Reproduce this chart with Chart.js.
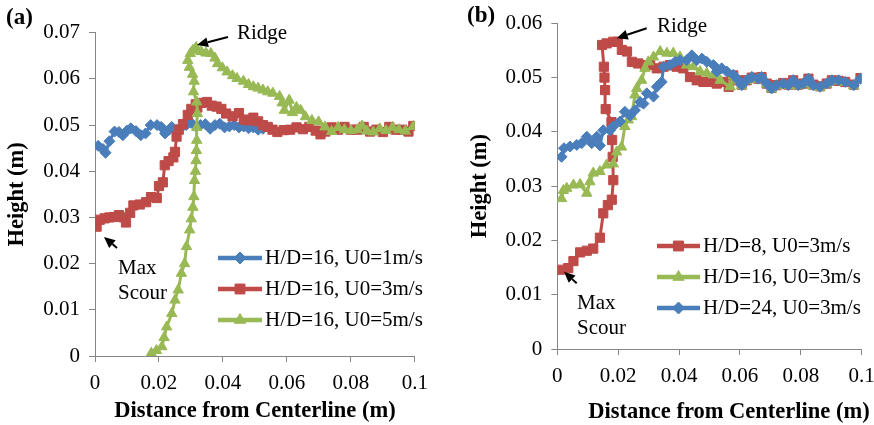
<!DOCTYPE html>
<html>
<head>
<meta charset="utf-8">
<script src="https://cdn.jsdelivr.net/npm/chart.js@4.4.1/dist/chart.umd.min.js"></script>
<style>
  html, body { margin: 0; padding: 0; background: #fff; overflow: hidden; }
  #wrapA { position: absolute; left: 0; top: 0; width: 437px; height: 425px; }
  #wrapB { position: absolute; left: 437px; top: 0; width: 470px; height: 425px; }
  .preload { position: absolute; left: -9999px; top: 0; font-family: 'Liberation Serif'; font-size: 21px; }
</style>
</head>
<body>
<span class="preload">Ridge 0.05</span><span class="preload" style="font-weight:bold">Height (m)</span>
<div id="wrapA"><canvas id="chartA" width="437" height="425"></canvas></div>
<div id="wrapB"><canvas id="chartB" width="470" height="425"></canvas></div>
<script>
// --- data (x = distance from centerline, y = height, both in m) ---
const xTicks = [0, 0.02, 0.04, 0.06, 0.08, 0.1];
const aYTicks = [0, 0.01, 0.02, 0.03, 0.04, 0.05, 0.06, 0.07];
const bYTicks = [0, 0.01, 0.02, 0.03, 0.04, 0.05, 0.06];

const aLabels = ['H/D=16, U0=1m/s', 'H/D=16, U0=3m/s', 'H/D=16, U0=5m/s'];
const bLabels = ['H/D=8, U0=3m/s', 'H/D=16, U0=3m/s', 'H/D=24, U0=3m/s'];

// panel (a)
const aU1 = [[0.001,0.0455],[0.0025,0.0448],[0.0033,0.044],[0.0045,0.0465],[0.0061,0.0486],[0.0075,0.0485],[0.0087,0.0478],[0.01,0.0488],[0.0112,0.0493],[0.0128,0.0487],[0.0143,0.0478],[0.0158,0.0482],[0.0174,0.05],[0.0194,0.05],[0.0207,0.0496],[0.0219,0.0482],[0.0232,0.049],[0.024,0.0496],[0.0255,0.049],[0.027,0.0495],[0.0285,0.05],[0.03,0.0505],[0.0315,0.0497],[0.033,0.05],[0.0345,0.0502],[0.036,0.0492],[0.0375,0.05],[0.039,0.0503],[0.0405,0.0495],[0.042,0.0497],[0.0435,0.05],[0.045,0.0495],[0.0465,0.0497],[0.048,0.0493],[0.0495,0.0495],[0.051,0.049],[0.0525,0.0492]];
const aU3 = [[0.0005,0.028],[0.0015,0.0295],[0.003,0.0298],[0.0045,0.03],[0.006,0.0301],[0.0075,0.0305],[0.009,0.03],[0.0097,0.0289],[0.011,0.031],[0.012,0.0326],[0.014,0.0328],[0.016,0.0333],[0.0175,0.0344],[0.0193,0.0342],[0.02,0.0368],[0.0212,0.0376],[0.0218,0.0413],[0.023,0.0422],[0.0245,0.043],[0.025,0.0442],[0.0255,0.0475],[0.0262,0.049],[0.0275,0.0502],[0.029,0.0522],[0.0301,0.0535],[0.0315,0.0545],[0.032,0.0538],[0.0333,0.0548],[0.035,0.055],[0.0365,0.0542],[0.038,0.054],[0.0395,0.0535],[0.041,0.0525],[0.043,0.0519],[0.045,0.0526],[0.0465,0.0512],[0.048,0.051],[0.0495,0.0516],[0.051,0.0508],[0.0525,0.05],[0.054,0.0496],[0.0555,0.049],[0.057,0.0485],[0.059,0.0489],[0.061,0.049],[0.063,0.0495],[0.065,0.0491],[0.067,0.0496],[0.069,0.0488],[0.0705,0.048],[0.072,0.0486],[0.074,0.0495],[0.076,0.049],[0.078,0.0496],[0.08,0.049],[0.082,0.049],[0.084,0.0496],[0.086,0.0486],[0.088,0.049],[0.09,0.0485],[0.092,0.0496],[0.094,0.049],[0.096,0.049],[0.098,0.0486],[0.0995,0.0498]];
const aU5 = [[0.0176,0.0006],[0.0192,0.0012],[0.0209,0.002],[0.0216,0.004],[0.0224,0.0063],[0.024,0.0092],[0.025,0.0121],[0.026,0.0143],[0.027,0.0179],[0.028,0.02],[0.0286,0.0237],[0.0296,0.0273],[0.0301,0.0297],[0.0306,0.0322],[0.0309,0.0345],[0.0311,0.038],[0.0314,0.04],[0.0316,0.0423],[0.0317,0.0445],[0.0318,0.0467],[0.0318,0.0495],[0.032,0.0525],[0.0318,0.055],[0.0308,0.0572],[0.031,0.0595],[0.0305,0.061],[0.0295,0.0625],[0.029,0.064],[0.0298,0.0655],[0.0306,0.0662],[0.0316,0.0668],[0.0332,0.0659],[0.0347,0.0656],[0.0362,0.0655],[0.0375,0.0645],[0.0383,0.0633],[0.0398,0.0624],[0.0413,0.0615],[0.043,0.0607],[0.0444,0.0601],[0.0464,0.0595],[0.048,0.0588],[0.0495,0.0583],[0.051,0.058],[0.0525,0.0576],[0.054,0.0572],[0.0556,0.0569],[0.0577,0.0562],[0.0585,0.0548],[0.0592,0.0532],[0.0607,0.0554],[0.0617,0.0527],[0.063,0.0538],[0.0643,0.0532],[0.0658,0.0518],[0.0678,0.051],[0.0699,0.0507],[0.0719,0.0496],[0.074,0.0486],[0.076,0.0495],[0.078,0.049],[0.08,0.0488],[0.082,0.049],[0.0835,0.0498],[0.085,0.0487],[0.087,0.0485],[0.089,0.0492],[0.091,0.0488],[0.093,0.0495],[0.095,0.049],[0.097,0.0487],[0.0995,0.0497]];

// panel (b)
const bHD8 = [[0.0009,0.0146],[0.0036,0.0149],[0.0053,0.0162],[0.0075,0.0178],[0.0097,0.0181],[0.0118,0.0185],[0.014,0.0205],[0.0151,0.025],[0.0166,0.0265],[0.0179,0.0275],[0.0184,0.0311],[0.0182,0.0354],[0.018,0.0385],[0.0178,0.0418],[0.0159,0.0442],[0.0157,0.0477],[0.0155,0.05],[0.0153,0.052],[0.0147,0.056],[0.0162,0.0563],[0.0184,0.0566],[0.0199,0.0566],[0.0212,0.0551],[0.0229,0.0548],[0.0245,0.0529],[0.0266,0.0526],[0.0288,0.0523],[0.0305,0.0523],[0.0327,0.0517],[0.0349,0.052],[0.037,0.0523],[0.0392,0.052],[0.0414,0.0517],[0.0436,0.0501],[0.0458,0.0495],[0.048,0.0492],[0.0502,0.0492],[0.0524,0.0489],[0.0546,0.0492],[0.0563,0.0483],[0.0578,0.0504],[0.0595,0.0495],[0.0606,0.0487],[0.0622,0.0495],[0.0639,0.05],[0.066,0.0498],[0.0671,0.0501],[0.0688,0.0489],[0.0704,0.0481],[0.072,0.0486],[0.0742,0.049],[0.0759,0.0487],[0.0775,0.0495],[0.0792,0.0487],[0.0808,0.0489],[0.0825,0.0498],[0.0841,0.0487],[0.0863,0.0484],[0.0885,0.0489],[0.0902,0.0495],[0.0924,0.0494],[0.0946,0.0492],[0.0974,0.0487],[0.0996,0.0499]];
const bHD16 = [[0.0014,0.0277],[0.002,0.0292],[0.0031,0.0296],[0.0053,0.0302],[0.0075,0.0303],[0.0097,0.0287],[0.0107,0.0308],[0.0118,0.0324],[0.014,0.0327],[0.0162,0.0339],[0.0184,0.0341],[0.0195,0.0363],[0.0211,0.0372],[0.0222,0.041],[0.0233,0.0422],[0.0244,0.0428],[0.0255,0.0468],[0.0261,0.048],[0.0277,0.0495],[0.0288,0.0517],[0.0299,0.0529],[0.0316,0.0538],[0.0338,0.0548],[0.036,0.0545],[0.0381,0.0545],[0.0403,0.0538],[0.0425,0.0523],[0.0447,0.052],[0.0469,0.0511],[0.0491,0.0508],[0.0513,0.0505],[0.0535,0.0495],[0.0568,0.0483],[0.0578,0.0503],[0.0595,0.0494],[0.0606,0.0485],[0.0622,0.0494],[0.0639,0.05],[0.066,0.0497],[0.0671,0.05],[0.0688,0.0488],[0.0704,0.0479],[0.072,0.0485],[0.0742,0.0488],[0.0759,0.0485],[0.0775,0.0494],[0.0792,0.0485],[0.0808,0.0488],[0.0825,0.0497],[0.0841,0.0485],[0.0863,0.0482],[0.0885,0.0488],[0.0902,0.0494],[0.0924,0.0494],[0.0946,0.0491],[0.0974,0.0485],[0.0996,0.0497]];
const bHD24 = [[0.0014,0.0354],[0.0022,0.037],[0.0042,0.0373],[0.0064,0.0376],[0.008,0.0379],[0.0097,0.0391],[0.0113,0.0379],[0.013,0.0391],[0.014,0.0375],[0.0151,0.0403],[0.0173,0.0403],[0.0184,0.041],[0.0206,0.0419],[0.0222,0.0437],[0.0239,0.043],[0.0255,0.044],[0.0272,0.0455],[0.0283,0.0452],[0.0294,0.0471],[0.0316,0.0465],[0.0327,0.0483],[0.0343,0.0492],[0.0349,0.052],[0.037,0.0523],[0.0387,0.0529],[0.0403,0.0532],[0.0425,0.0532],[0.0442,0.0541],[0.0458,0.0532],[0.0475,0.0535],[0.0491,0.0529],[0.0513,0.0523],[0.0524,0.0511],[0.054,0.0517],[0.0557,0.0511],[0.0578,0.0505],[0.0595,0.0495],[0.0606,0.0486],[0.0622,0.0495],[0.0639,0.0501],[0.066,0.0498],[0.0671,0.0501],[0.0688,0.0489],[0.0704,0.048],[0.072,0.0486],[0.0742,0.0489],[0.0759,0.0486],[0.0775,0.0495],[0.0792,0.0486],[0.0808,0.0489],[0.0825,0.0498],[0.0841,0.0486],[0.0863,0.0483],[0.0885,0.0489],[0.0902,0.0495],[0.0924,0.0495],[0.0946,0.0492],[0.0974,0.0486],[0.0996,0.0498]];

// --- styles ---
const FONT = "'Liberation Serif', 'DejaVu Serif', serif";
const BLUE = '#4a7ebb';
const RED = '#be4b48';
const GREEN = '#98b954';
const AXIS_GREY = '#868686';

const fmt = v => String(+Number(v).toFixed(2));
const toPts = arr => arr.map(p => ({ x: p[0], y: p[1] }));

function series(label, data, color, style, r) {
    return {
        label: label,
        data: toPts(data),
        showLine: true,
        borderColor: color,
        backgroundColor: color,
        borderWidth: 3,
        pointStyle: style,
        pointRadius: r,
        pointHoverRadius: r,
        pointBackgroundColor: color,
        pointBorderColor: color,
        pointBorderWidth: 1,
        tension: 0
    };
}

function drawMarker(ctx, style, r, color, x, y) {
    ctx.fillStyle = color;
    ctx.strokeStyle = color;
    ctx.lineWidth = 1;
    if (Chart.helpers && Chart.helpers.drawPoint) {
        Chart.helpers.drawPoint(ctx, { pointStyle: style, radius: r, rotation: 0, borderWidth: 1 }, x, y);
        return;
    }
    ctx.beginPath();
    ctx.arc(x, y, r, 0, Math.PI * 2);
    ctx.fill();
}

function arrow(ctx, x1, y1, x2, y2) {
    const a = Math.atan2(y2 - y1, x2 - x1);
    const h = 11, w = 5;
    const bx = x2 - h * Math.cos(a), by = y2 - h * Math.sin(a);
    ctx.strokeStyle = '#000';
    ctx.fillStyle = '#000';
    ctx.lineWidth = 2;
    ctx.beginPath();
    ctx.moveTo(x1, y1);
    ctx.lineTo(bx, by);
    ctx.stroke();
    ctx.beginPath();
    ctx.moveTo(x2, y2);
    ctx.lineTo(bx + w * Math.sin(a), by - w * Math.cos(a));
    ctx.lineTo(bx - w * Math.sin(a), by + w * Math.cos(a));
    ctx.closePath();
    ctx.fill();
}

function text(ctx, str, x, y, size, bold) {
    ctx.fillStyle = '#000';
    ctx.font = (bold ? 'bold ' : 'normal ') + size + 'px ' + FONT;
    ctx.textAlign = 'left';
    ctx.textBaseline = 'middle';
    ctx.fillText(str, x, y);
}

// legend: entries drawn top to bottom, line sample + marker + label
function drawLegend(ctx, entries, x1, x2, tx, ys) {
    entries.forEach((e, i) => {
        const y = ys[i];
        ctx.strokeStyle = e.color;
        ctx.lineWidth = 4.5;
        ctx.beginPath();
        ctx.moveTo(x1, y);
        ctx.lineTo(x2, y);
        ctx.stroke();
        drawMarker(ctx, e.style, e.r + 0.5, e.color, (x1 + x2) / 2, y);
        text(ctx, e.label, tx, y, 21, false);
    });
}

function makeChart(id, o) {
    new Chart(document.getElementById(id), {
        type: 'scatter',
        data: { datasets: o.datasets },
        options: {
            responsive: false,
            animation: false,
            events: [],
            layout: { padding: { left: 0, right: o.padRight, top: o.padTop, bottom: 0 } },
            plugins: { legend: { display: false }, tooltip: { enabled: false } },
            scales: {
                x: {
                    type: 'linear',
                    min: 0,
                    max: 0.1,
                    afterBuildTicks: s => { s.ticks = xTicks.map(v => ({ value: v })); },
                    afterFit: s => { s.height = o.xH; },
                    grid: { display: true, drawOnChartArea: false, tickLength: 6, color: AXIS_GREY },
                    border: { display: true, color: AXIS_GREY, width: 1 },
                    ticks: { font: { family: FONT, size: 21, weight: 'normal' }, color: '#000', padding: 9, maxRotation: 0, autoSkip: false, callback: fmt },
                    title: o.xTitle
                },
                y: {
                    type: 'linear',
                    min: 0,
                    max: o.yTicks[o.yTicks.length - 1],
                    afterBuildTicks: s => { s.ticks = o.yTicks.map(v => ({ value: v })); },
                    afterFit: s => { s.width = o.yW; },
                    grid: { display: true, drawOnChartArea: false, tickLength: 6, color: AXIS_GREY },
                    border: { display: true, color: AXIS_GREY, width: 1 },
                    ticks: { font: { family: FONT, size: 21, weight: 'normal' }, color: '#000', padding: 9, autoSkip: false, callback: fmt },
                    title: {
                        display: true,
                        text: 'Height (m)',
                        color: '#000',
                        font: { family: FONT, size: 22.5, weight: 'bold' },
                        padding: { top: o.yTitlePad, bottom: 0 }
                    }
                }
            }
        },
        plugins: [{
            id: 'notes',
            afterDraw(chart) {
                const ctx = chart.ctx;
                ctx.save();
                o.notes(ctx);
                ctx.restore();
            }
        }]
    });
}

function render() {
    // --- (a) ---
    const aStyles = [
        { color: BLUE, style: 'rectRot', r: 5.5 },
        { color: RED, style: 'rect', r: 6.5 },
        { color: GREEN, style: 'triangle', r: 6 }
    ];
    const aSeries = [aU1, aU3, aU5];
    const aSets = aSeries.map((d, i) => series(aLabels[i], d, aStyles[i].color, aStyles[i].style, aStyles[i].r));

    makeChart('chartA', {
        datasets: aSets.slice().reverse(), // last entry drawn on top
        yTicks: aYTicks,
        yW: 95,
        xH: 69,
        padTop: 32.7,
        padRight: 15,
        yTitlePad: 3.5,
        xTitle: {
            display: true,
            text: 'Distance from Centerline (m)',
            color: '#000',
            font: { family: FONT, size: 22.5, weight: 'bold' },
            padding: { top: 0, bottom: 0 }
        },
        notes: ctx => {
            text(ctx, '(a)', 6, 18, 23, true);
            text(ctx, 'Ridge', 237, 33, 21, false);
            arrow(ctx, 228, 37, 197, 45);
            text(ctx, 'Max', 118, 268, 21, false);
            text(ctx, 'Scour', 118, 293, 21, false);
            arrow(ctx, 117, 248, 104, 237);
            drawLegend(ctx, aLabels.map((l, i) => Object.assign({ label: l }, aStyles[i])), 218, 262, 265, [258, 289, 320]);
        }
    });

    // --- (b) ---
    const bStyles = [
        { color: RED, style: 'rect', r: 6.5 },
        { color: GREEN, style: 'triangle', r: 6 },
        { color: BLUE, style: 'rectRot', r: 5.5 }
    ];
    const bSeries = [bHD8, bHD16, bHD24];
    const bSets = bSeries.map((d, i) => series(bLabels[i], d, bStyles[i].color, bStyles[i].style, bStyles[i].r));

    makeChart('chartB', {
        datasets: bSets.slice().reverse(),
        yTicks: bYTicks,
        yW: 120.3,
        xH: 76,
        padTop: 23.3,
        padRight: 45.3,
        yTitlePad: 29.5,
        xTitle: { display: false },
        notes: ctx => {
            ctx.fillStyle = '#000';
            ctx.font = 'bold 22.5px ' + FONT;
            ctx.textAlign = 'center';
            ctx.textBaseline = 'middle';
            ctx.fillText('Distance from Centerline (m)', 292, 412);
            text(ctx, '(b)', 30, 16, 23, true);
            text(ctx, 'Ridge', 220, 26, 21, false);
            arrow(ctx, 209.7, 28.3, 179.7, 38.3);
            text(ctx, 'Max', 140, 303, 21, false);
            text(ctx, 'Scour', 140, 328, 21, false);
            arrow(ctx, 139.7, 283.3, 127, 271.7);
            drawLegend(ctx, bLabels.map((l, i) => Object.assign({ label: l }, bStyles[i])), 220, 263, 266, [246, 277, 308]);
        }
    });
}

if (document.fonts && document.fonts.load) {
    Promise.all([
        document.fonts.load("21px 'Liberation Serif'"),
        document.fonts.load("bold 22.5px 'Liberation Serif'")
    ]).then(render, render);
} else {
    render();
}
</script>
</body>
</html>
